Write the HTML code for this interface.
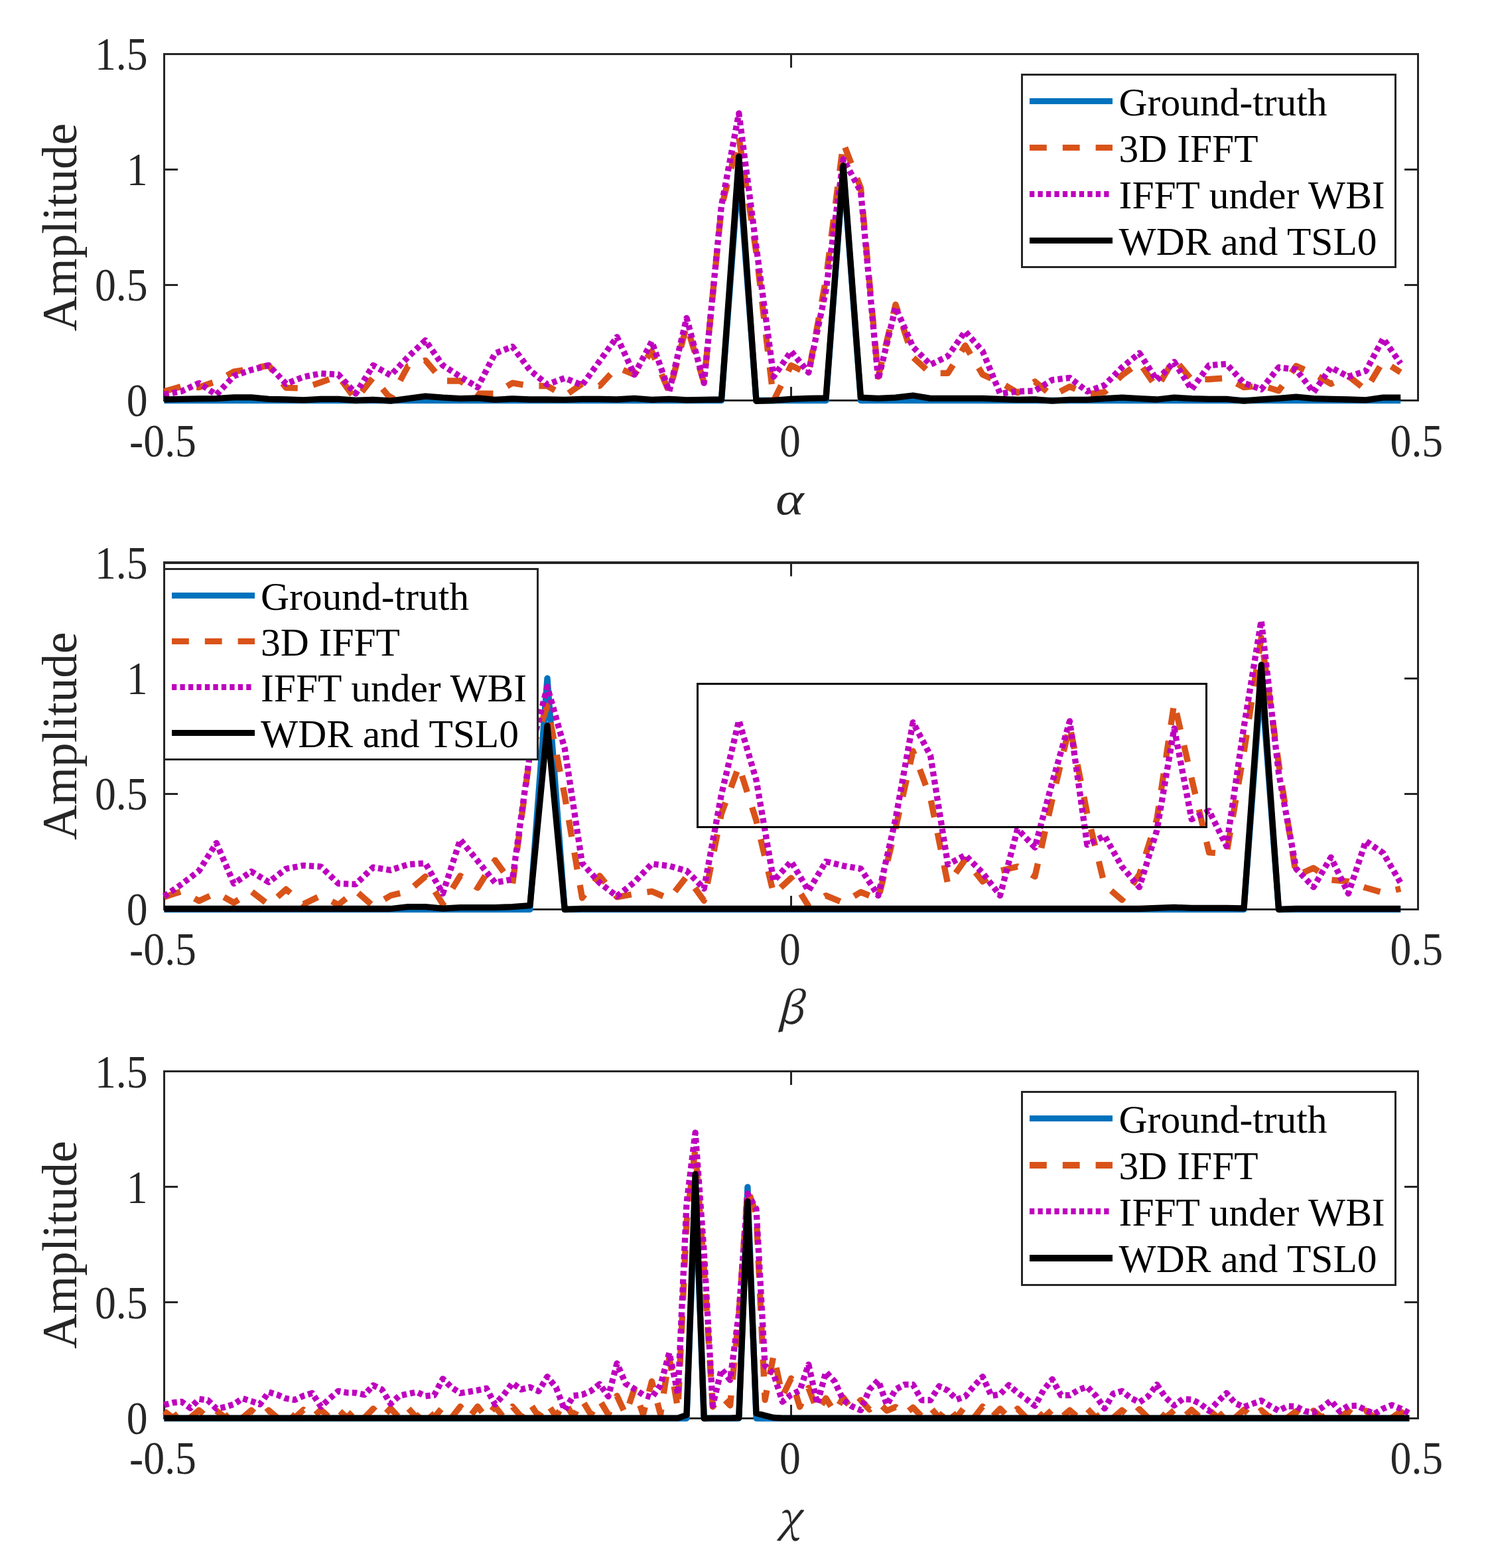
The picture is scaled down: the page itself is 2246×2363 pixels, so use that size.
<!DOCTYPE html><html><head><meta charset="utf-8"><title>Amplitude profiles</title>
<style>html,body{margin:0;padding:0;background:#fff}svg{display:block}text{font-family:"Liberation Serif","DejaVu Serif",serif}</style></head><body>
<svg width="2246" height="2363" viewBox="0 0 2246 2363">
<rect width="2246" height="2363" fill="#fff"/>
<g>
<path d="M247.5 81.5 V603.5 H2137.5 V81.5" fill="none" stroke="#262626" stroke-width="3" stroke-linecap="square"/>
<path d="M246.0 81.5 H2139.0" fill="none" stroke="#262626" stroke-width="3"/>
<text transform="translate(245.5 687.5) scale(0.955 1.035)" font-size="66.67" fill="#262626" text-anchor="middle">-0.5</text>
<path d="M1192.5 603.5 v-20.5 M1192.5 81.5 v20.5" stroke="#262626" stroke-width="3" fill="none"/>
<text transform="translate(1191.0 687.5) scale(0.955 1.035)" font-size="66.67" fill="#262626" text-anchor="middle">0</text>
<text transform="translate(2135.4 687.5) scale(0.955 1.035)" font-size="66.67" fill="#262626" text-anchor="middle">0.5</text>
<text transform="translate(222.6 627.1) scale(0.955 1.035)" font-size="66.67" fill="#262626" text-anchor="end">0</text>
<path d="M247.5 429.5 h20.5 M2137.5 429.5 h-20.5" stroke="#262626" stroke-width="3" fill="none"/>
<text transform="translate(222.6 453.1) scale(0.955 1.035)" font-size="66.67" fill="#262626" text-anchor="end">0.5</text>
<path d="M247.5 255.5 h20.5 M2137.5 255.5 h-20.5" stroke="#262626" stroke-width="3" fill="none"/>
<text transform="translate(222.6 279.1) scale(0.955 1.035)" font-size="66.67" fill="#262626" text-anchor="end">1</text>
<text transform="translate(222.6 105.1) scale(0.955 1.035)" font-size="66.67" fill="#262626" text-anchor="end">1.5</text>
<text transform="translate(115.3 342.5) rotate(-90)" font-size="73.3" fill="#262626" text-anchor="middle">Amplitude</text>
<text transform="translate(1190.5 774.5) scale(1.17 1)" font-size="69.2" fill="#262626" stroke="#262626" stroke-width="0" text-anchor="middle" font-style="italic" style="font-family:'Liberation Serif','DejaVu Serif',serif">α</text>
<polyline points="247.5,603.5 273.8,603.5 300.0,603.5 326.2,603.5 352.5,603.5 378.8,603.5 405.0,603.5 431.2,603.5 457.5,603.5 483.8,603.5 510.0,603.5 536.2,603.5 562.5,603.5 588.8,603.5 615.0,603.5 641.2,603.5 667.5,603.5 693.8,603.5 720.0,603.5 746.2,603.5 772.5,603.5 798.8,603.5 825.0,603.5 851.2,603.5 877.5,603.5 903.8,603.5 930.0,603.5 956.2,603.5 982.5,603.5 1008.8,603.5 1035.0,603.5 1061.2,603.5 1087.5,603.5 1113.8,255.5 1140.0,603.5 1166.2,603.5 1192.5,603.5 1218.8,603.5 1245.0,603.5 1271.2,255.5 1297.5,603.5 1323.8,603.5 1350.0,603.5 1376.2,603.5 1402.5,603.5 1428.8,603.5 1455.0,603.5 1481.2,603.5 1507.5,603.5 1533.8,603.5 1560.0,603.5 1586.2,603.5 1612.5,603.5 1638.8,603.5 1665.0,603.5 1691.2,603.5 1717.5,603.5 1743.8,603.5 1770.0,603.5 1796.2,603.5 1822.5,603.5 1848.8,603.5 1875.0,603.5 1901.2,603.5 1927.5,603.5 1953.8,603.5 1980.0,603.5 2006.2,603.5 2032.5,603.5 2058.8,603.5 2085.0,603.5 2111.2,603.5" fill="none" stroke="#0072BD" stroke-width="9.3" stroke-linejoin="round"/>
<polyline points="247.5,589.9 273.8,582.3 300.0,583.7 326.2,574.6 352.5,560.2 378.8,555.8 405.0,550.6 431.2,584.4 457.5,585.1 483.8,576.1 510.0,566.6 536.2,602.1 562.5,568.7 588.8,600.7 615.0,551.6 641.2,543.1 667.5,574.0 693.8,574.0 720.0,593.1 746.2,593.1 772.5,577.2 798.8,581.6 825.0,581.6 851.2,596.5 877.5,578.4 903.8,581.6 930.0,553.7 956.2,564.5 982.5,529.4 1008.8,591.0 1035.0,490.7 1061.2,576.1 1087.5,312.6 1113.8,206.8 1140.0,380.8 1166.2,603.5 1192.5,550.6 1218.8,563.5 1245.0,420.5 1271.2,215.5 1297.5,283.3 1323.8,567.7 1350.0,458.9 1376.2,538.4 1402.5,562.4 1428.8,562.4 1455.0,520.7 1481.2,564.5 1507.5,576.1 1533.8,591.7 1560.0,575.1 1586.2,596.5 1612.5,582.6 1638.8,593.8 1665.0,591.0 1691.2,565.6 1717.5,546.4 1743.8,584.7 1770.0,540.9 1796.2,572.2 1822.5,571.5 1848.8,569.7 1875.0,583.7 1901.2,580.9 1927.5,588.9 1953.8,551.6 1980.0,562.8 2006.2,578.4 2032.5,566.6 2058.8,587.8 2085.0,544.2 2111.2,561.2" fill="none" stroke="#D95319" stroke-width="9.3" stroke-linejoin="round" stroke-dasharray="25.8 24"/>
<polyline points="247.5,594.5 273.8,589.6 300.0,577.4 326.2,594.8 352.5,566.6 378.8,557.4 405.0,550.6 431.2,578.4 457.5,568.0 483.8,562.8 510.0,564.5 536.2,593.1 562.5,550.6 588.8,565.6 615.0,538.1 641.2,513.0 667.5,550.6 693.8,567.7 720.0,583.7 746.2,532.5 772.5,522.4 798.8,557.9 825.0,579.5 851.2,569.7 877.5,580.5 903.8,544.3 930.0,507.8 956.2,564.5 982.5,514.8 1008.8,589.9 1035.0,479.3 1061.2,577.2 1087.5,309.8 1113.8,170.8 1140.0,372.1 1166.2,567.7 1192.5,529.4 1218.8,561.4 1245.0,437.3 1271.2,239.8 1297.5,288.6 1323.8,572.2 1350.0,463.3 1376.2,522.8 1402.5,549.6 1428.8,536.7 1455.0,499.4 1481.2,529.4 1507.5,593.1 1533.8,589.9 1560.0,588.9 1586.2,572.5 1612.5,569.4 1638.8,589.9 1665.0,580.5 1691.2,553.7 1717.5,532.2 1743.8,572.9 1770.0,545.4 1796.2,586.8 1822.5,550.6 1848.8,548.5 1875.0,577.2 1901.2,586.8 1927.5,553.7 1953.8,556.9 1980.0,591.0 2006.2,553.7 2032.5,567.7 2058.8,559.0 2085.0,510.2 2111.2,547.8" fill="none" stroke="#BE00BE" stroke-width="9.3" stroke-linejoin="round" stroke-dasharray="7.3 5.17"/>
<polyline points="247.5,602.0 273.8,601.3 300.0,600.9 326.2,600.7 352.5,598.8 378.8,598.8 405.0,601.3 431.2,602.0 457.5,602.8 483.8,601.3 510.0,601.3 536.2,603.5 562.5,602.4 588.8,604.1 615.0,600.7 641.2,597.1 667.5,599.2 693.8,600.7 720.0,599.8 746.2,602.4 772.5,600.9 798.8,602.0 825.0,602.0 851.2,602.4 877.5,601.3 903.8,601.3 930.0,602.0 956.2,600.3 982.5,602.4 1008.8,601.3 1035.0,602.8 1061.2,602.4 1087.5,602.0 1113.8,236.0 1140.0,604.3 1166.2,603.5 1192.5,601.3 1218.8,600.3 1245.0,599.8 1271.2,249.6 1297.5,599.2 1323.8,600.3 1350.0,599.2 1376.2,596.0 1402.5,600.3 1428.8,600.3 1455.0,600.3 1481.2,600.3 1507.5,601.3 1533.8,602.4 1560.0,602.0 1586.2,604.1 1612.5,602.4 1638.8,602.4 1665.0,600.7 1691.2,599.2 1717.5,600.7 1743.8,602.0 1770.0,599.2 1796.2,600.7 1822.5,601.3 1848.8,601.3 1875.0,604.1 1901.2,602.0 1927.5,600.3 1953.8,598.1 1980.0,600.7 2006.2,601.3 2032.5,602.0 2058.8,602.8 2085.0,599.2 2111.2,599.2" fill="none" stroke="#000000" stroke-width="9.3" stroke-linejoin="round"/>
<rect x="1540.5" y="112.5" width="563" height="290" fill="#fff" stroke="#262626" stroke-width="3"/><line x1="1552" y1="152.5" x2="1677" y2="152.5" stroke="#0072BD" stroke-width="9"/><text x="1686.6" y="174.0" font-size="59.5" fill="#000">Ground-truth</text><line x1="1552" y1="222.5" x2="1677" y2="222.5" stroke="#D95319" stroke-width="9" stroke-dasharray="25.8 24"/><text x="1686.6" y="244.0" font-size="59.5" fill="#000">3D IFFT</text><line x1="1552" y1="292.5" x2="1671.5" y2="292.5" stroke="#BE00BE" stroke-width="9" stroke-dasharray="7.3 5.17"/><text x="1686.6" y="314.0" font-size="59.5" fill="#000">IFFT under WBI</text><line x1="1552" y1="362.5" x2="1677" y2="362.5" stroke="#000000" stroke-width="9"/><text x="1686.6" y="384.0" font-size="59.5" fill="#000">WDR and TSL0</text>
</g>
<g>
<path d="M247.5 848.0 V1370.5 H2137.5 V848.0" fill="none" stroke="#262626" stroke-width="3" stroke-linecap="square"/>
<path d="M246.0 848.0 H2139.0" fill="none" stroke="#262626" stroke-width="4"/>
<text transform="translate(245.5 1453.7) scale(0.955 1.035)" font-size="66.67" fill="#262626" text-anchor="middle">-0.5</text>
<path d="M1192.5 1370.5 v-20.5 M1192.5 848.0 v20.5" stroke="#262626" stroke-width="3" fill="none"/>
<text transform="translate(1191.0 1453.7) scale(0.955 1.035)" font-size="66.67" fill="#262626" text-anchor="middle">0</text>
<text transform="translate(2135.4 1453.7) scale(0.955 1.035)" font-size="66.67" fill="#262626" text-anchor="middle">0.5</text>
<text transform="translate(222.6 1394.1) scale(0.955 1.035)" font-size="66.67" fill="#262626" text-anchor="end">0</text>
<path d="M247.5 1196.5 h20.5 M2137.5 1196.5 h-20.5" stroke="#262626" stroke-width="3" fill="none"/>
<text transform="translate(222.6 1220.1) scale(0.955 1.035)" font-size="66.67" fill="#262626" text-anchor="end">0.5</text>
<path d="M247.5 1022.5 h20.5 M2137.5 1022.5 h-20.5" stroke="#262626" stroke-width="3" fill="none"/>
<text transform="translate(222.6 1046.1) scale(0.955 1.035)" font-size="66.67" fill="#262626" text-anchor="end">1</text>
<text transform="translate(222.6 872.1) scale(0.955 1.035)" font-size="66.67" fill="#262626" text-anchor="end">1.5</text>
<text transform="translate(115.3 1109.2) rotate(-90)" font-size="73.3" fill="#262626" text-anchor="middle">Amplitude</text>
<text transform="translate(1190.2 1541.8) scale(1.0 1)" font-size="65" fill="#262626" stroke="#262626" stroke-width="0.4" text-anchor="middle" font-style="italic" style="font-family:'Noto Serif CJK SC','DejaVu Serif',serif">β</text>
<polyline points="247.5,1370.5 273.8,1370.5 300.0,1370.5 326.2,1370.5 352.5,1370.5 378.8,1370.5 405.0,1370.5 431.2,1370.5 457.5,1370.5 483.8,1370.5 510.0,1370.5 536.2,1370.5 562.5,1370.5 588.8,1370.5 615.0,1370.5 641.2,1370.5 667.5,1370.5 693.8,1370.5 720.0,1370.5 746.2,1370.5 772.5,1370.5 798.8,1370.5 825.0,1022.2 851.2,1370.5 877.5,1370.5 903.8,1370.5 930.0,1370.5 956.2,1370.5 982.5,1370.5 1008.8,1370.5 1035.0,1370.5 1061.2,1370.5 1087.5,1370.5 1113.8,1370.5 1140.0,1370.5 1166.2,1370.5 1192.5,1370.5 1218.8,1370.5 1245.0,1370.5 1271.2,1370.5 1297.5,1370.5 1323.8,1370.5 1350.0,1370.5 1376.2,1370.5 1402.5,1370.5 1428.8,1370.5 1455.0,1370.5 1481.2,1370.5 1507.5,1370.5 1533.8,1370.5 1560.0,1370.5 1586.2,1370.5 1612.5,1370.5 1638.8,1370.5 1665.0,1370.5 1691.2,1370.5 1717.5,1370.5 1743.8,1370.5 1770.0,1370.5 1796.2,1370.5 1822.5,1370.5 1848.8,1370.5 1875.0,1370.5 1901.2,1022.2 1927.5,1370.5 1953.8,1370.5 1980.0,1370.5 2006.2,1370.5 2032.5,1370.5 2058.8,1370.5 2085.0,1370.5 2111.2,1370.5" fill="none" stroke="#0072BD" stroke-width="9.3" stroke-linejoin="round"/>
<polyline points="247.5,1351.8 273.8,1343.3 300.0,1357.8 326.2,1345.4 352.5,1360.4 378.8,1343.3 405.0,1363.5 431.2,1340.2 457.5,1362.5 483.8,1349.6 510.0,1363.5 536.2,1342.3 562.5,1365.6 588.8,1349.6 615.0,1343.3 641.2,1320.9 667.5,1362.5 693.8,1319.8 720.0,1337.9 746.2,1296.3 772.5,1332.5 798.8,1138.5 825.0,1064.0 851.2,1199.2 877.5,1353.1 903.8,1319.8 930.0,1351.8 956.2,1347.2 982.5,1343.3 1008.8,1354.5 1035.0,1320.9 1061.2,1357.3 1087.5,1225.9 1113.8,1154.5 1140.0,1236.5 1166.2,1347.5 1192.5,1323.1 1218.8,1365.6 1245.0,1349.6 1271.2,1360.4 1297.5,1344.4 1323.8,1355.0 1350.0,1248.2 1376.2,1131.9 1402.5,1202.4 1428.8,1332.5 1455.0,1295.3 1481.2,1328.4 1507.5,1312.3 1533.8,1305.9 1560.0,1320.9 1586.2,1204.7 1612.5,1093.6 1638.8,1225.9 1665.0,1333.6 1691.2,1356.2 1717.5,1317.7 1743.8,1234.7 1770.0,1059.1 1796.2,1173.3 1822.5,1284.6 1848.8,1286.9 1875.0,1134.1 1901.2,961.2 1927.5,1151.0 1953.8,1319.8 1980.0,1308.1 2006.2,1325.9 2032.5,1328.4 2058.8,1337.9 2085.0,1345.4 2111.2,1339.2" fill="none" stroke="#D95319" stroke-width="9.3" stroke-linejoin="round" stroke-dasharray="25.8 24"/>
<polyline points="247.5,1350.7 273.8,1332.5 300.0,1312.3 326.2,1270.5 352.5,1331.5 378.8,1313.4 405.0,1329.4 431.2,1309.2 457.5,1304.3 483.8,1306.1 510.0,1331.5 536.2,1332.5 562.5,1307.1 588.8,1311.3 615.0,1302.7 641.2,1301.0 667.5,1346.5 693.8,1265.3 720.0,1297.3 746.2,1330.1 772.5,1325.2 798.8,1136.4 825.0,1035.1 851.2,1127.7 877.5,1300.8 903.8,1330.4 930.0,1350.7 956.2,1329.4 982.5,1301.9 1008.8,1305.0 1035.0,1312.3 1061.2,1339.2 1087.5,1197.0 1113.8,1085.9 1140.0,1175.8 1166.2,1327.3 1192.5,1298.4 1218.8,1342.3 1245.0,1298.4 1271.2,1304.8 1297.5,1309.2 1323.8,1349.6 1350.0,1234.0 1376.2,1088.7 1402.5,1138.5 1428.8,1302.7 1455.0,1288.8 1481.2,1315.5 1507.5,1349.6 1533.8,1249.3 1560.0,1277.1 1586.2,1178.9 1612.5,1086.8 1638.8,1273.0 1665.0,1259.7 1691.2,1306.1 1717.5,1336.9 1743.8,1251.5 1770.0,1097.8 1796.2,1234.7 1822.5,1221.8 1848.8,1275.1 1875.0,1095.7 1901.2,935.4 1927.5,1165.0 1953.8,1309.2 1980.0,1336.9 2006.2,1292.1 2032.5,1346.5 2058.8,1267.5 2085.0,1285.6 2111.2,1330.4" fill="none" stroke="#BE00BE" stroke-width="9.3" stroke-linejoin="round" stroke-dasharray="7.3 5.17"/>
<polyline points="247.5,1369.5 273.8,1369.5 300.0,1369.5 326.2,1369.5 352.5,1369.5 378.8,1369.5 405.0,1369.5 431.2,1369.5 457.5,1369.5 483.8,1369.5 510.0,1369.5 536.2,1369.5 562.5,1369.5 588.8,1369.5 615.0,1366.7 641.2,1366.7 667.5,1369.1 693.8,1367.7 720.0,1367.7 746.2,1367.7 772.5,1366.7 798.8,1364.6 825.0,1093.6 851.2,1370.5 877.5,1369.5 903.8,1369.5 930.0,1369.5 956.2,1369.5 982.5,1369.5 1008.8,1369.5 1035.0,1369.5 1061.2,1369.5 1087.5,1369.5 1113.8,1369.5 1140.0,1369.5 1166.2,1369.5 1192.5,1369.5 1218.8,1369.5 1245.0,1369.5 1271.2,1369.5 1297.5,1369.5 1323.8,1369.5 1350.0,1369.5 1376.2,1369.5 1402.5,1369.5 1428.8,1369.5 1455.0,1369.5 1481.2,1369.5 1507.5,1369.5 1533.8,1369.5 1560.0,1369.5 1586.2,1369.5 1612.5,1369.5 1638.8,1369.5 1665.0,1369.5 1691.2,1369.5 1717.5,1369.5 1743.8,1368.4 1770.0,1367.4 1796.2,1368.4 1822.5,1368.4 1848.8,1368.4 1875.0,1368.8 1901.2,1002.0 1927.5,1370.5 1953.8,1369.5 1980.0,1369.5 2006.2,1369.5 2032.5,1369.5 2058.8,1369.5 2085.0,1369.5 2111.2,1369.5" fill="none" stroke="#000000" stroke-width="9.3" stroke-linejoin="round"/>
<rect x="1051.5" y="1030.5" width="767" height="216" fill="none" stroke="#000" stroke-width="3"/>
<rect x="247.5" y="857.5" width="563" height="287" fill="#fff" stroke="#262626" stroke-width="3"/><line x1="259" y1="897.5" x2="384" y2="897.5" stroke="#0072BD" stroke-width="9"/><text x="393" y="919.0" font-size="59.5" fill="#000">Ground-truth</text><line x1="259" y1="966.5" x2="384" y2="966.5" stroke="#D95319" stroke-width="9" stroke-dasharray="25.8 24"/><text x="393" y="988.0" font-size="59.5" fill="#000">3D IFFT</text><line x1="259" y1="1035.5" x2="378.5" y2="1035.5" stroke="#BE00BE" stroke-width="9" stroke-dasharray="7.3 5.17"/><text x="393" y="1057.0" font-size="59.5" fill="#000">IFFT under WBI</text><line x1="259" y1="1104.5" x2="384" y2="1104.5" stroke="#000000" stroke-width="9"/><text x="393" y="1126.0" font-size="59.5" fill="#000">WDR and TSL0</text>
</g>
<g>
<path d="M247.5 1614.5 V2137.5 H2137.5 V1614.5" fill="none" stroke="#262626" stroke-width="3" stroke-linecap="square"/>
<path d="M246.0 1614.5 H2139.0" fill="none" stroke="#262626" stroke-width="3"/>
<text transform="translate(245.5 2220.8) scale(0.955 1.035)" font-size="66.67" fill="#262626" text-anchor="middle">-0.5</text>
<path d="M1192.5 2137.5 v-20.5 M1192.5 1614.5 v20.5" stroke="#262626" stroke-width="3" fill="none"/>
<text transform="translate(1191.0 2220.8) scale(0.955 1.035)" font-size="66.67" fill="#262626" text-anchor="middle">0</text>
<text transform="translate(2135.4 2220.8) scale(0.955 1.035)" font-size="66.67" fill="#262626" text-anchor="middle">0.5</text>
<text transform="translate(222.6 2161.1) scale(0.955 1.035)" font-size="66.67" fill="#262626" text-anchor="end">0</text>
<path d="M247.5 1962.5 h20.5 M2137.5 1962.5 h-20.5" stroke="#262626" stroke-width="3" fill="none"/>
<text transform="translate(222.6 1987.1) scale(0.955 1.035)" font-size="66.67" fill="#262626" text-anchor="end">0.5</text>
<path d="M247.5 1788.5 h20.5 M2137.5 1788.5 h-20.5" stroke="#262626" stroke-width="3" fill="none"/>
<text transform="translate(222.6 1813.1) scale(0.955 1.035)" font-size="66.67" fill="#262626" text-anchor="end">1</text>
<text transform="translate(222.6 1639.1) scale(0.955 1.035)" font-size="66.67" fill="#262626" text-anchor="end">1.5</text>
<text transform="translate(115.3 1876.0) rotate(-90)" font-size="73.3" fill="#262626" text-anchor="middle">Amplitude</text>
<text transform="translate(1189 2309.2) scale(1.0 1)" font-size="63.5" fill="#262626" stroke="#262626" stroke-width="0.4" text-anchor="middle" font-style="italic" style="font-family:'Noto Serif CJK SC','DejaVu Serif',serif">χ</text>
<polyline points="247.5,2137.5 260.6,2137.5 273.8,2137.5 286.9,2137.5 300.0,2137.5 313.1,2137.5 326.2,2137.5 339.4,2137.5 352.5,2137.5 365.6,2137.5 378.8,2137.5 391.9,2137.5 405.0,2137.5 418.1,2137.5 431.2,2137.5 444.4,2137.5 457.5,2137.5 470.6,2137.5 483.8,2137.5 496.9,2137.5 510.0,2137.5 523.1,2137.5 536.2,2137.5 549.4,2137.5 562.5,2137.5 575.6,2137.5 588.8,2137.5 601.9,2137.5 615.0,2137.5 628.1,2137.5 641.2,2137.5 654.4,2137.5 667.5,2137.5 680.6,2137.5 693.8,2137.5 706.9,2137.5 720.0,2137.5 733.1,2137.5 746.2,2137.5 759.4,2137.5 772.5,2137.5 785.6,2137.5 798.8,2137.5 811.9,2137.5 825.0,2137.5 838.1,2137.5 851.2,2137.5 864.4,2137.5 877.5,2137.5 890.6,2137.5 903.8,2137.5 916.9,2137.5 930.0,2137.5 943.1,2137.5 956.2,2137.5 969.4,2137.5 982.5,2137.5 995.6,2137.5 1008.8,2137.5 1021.9,2137.5 1035.0,2137.5 1048.1,1788.8 1061.2,2137.5 1074.4,2137.5 1087.5,2137.5 1100.6,2137.5 1113.8,2137.5 1126.9,1788.8 1140.0,2137.5 1153.1,2137.5 1166.2,2137.5 1179.4,2137.5 1192.5,2137.5 1205.6,2137.5 1218.8,2137.5 1231.9,2137.5 1245.0,2137.5 1258.1,2137.5 1271.2,2137.5 1284.4,2137.5 1297.5,2137.5 1310.6,2137.5 1323.8,2137.5 1336.9,2137.5 1350.0,2137.5 1363.1,2137.5 1376.2,2137.5 1389.4,2137.5 1402.5,2137.5 1415.6,2137.5 1428.8,2137.5 1441.9,2137.5 1455.0,2137.5 1468.1,2137.5 1481.2,2137.5 1494.4,2137.5 1507.5,2137.5 1520.6,2137.5 1533.8,2137.5 1546.9,2137.5 1560.0,2137.5 1573.1,2137.5 1586.2,2137.5 1599.4,2137.5 1612.5,2137.5 1625.6,2137.5 1638.8,2137.5 1651.9,2137.5 1665.0,2137.5 1678.1,2137.5 1691.2,2137.5 1704.4,2137.5 1717.5,2137.5 1730.6,2137.5 1743.8,2137.5 1756.9,2137.5 1770.0,2137.5 1783.1,2137.5 1796.2,2137.5 1809.4,2137.5 1822.5,2137.5 1835.6,2137.5 1848.8,2137.5 1861.9,2137.5 1875.0,2137.5 1888.1,2137.5 1901.2,2137.5 1914.4,2137.5 1927.5,2137.5 1940.6,2137.5 1953.8,2137.5 1966.9,2137.5 1980.0,2137.5 1993.1,2137.5 2006.2,2137.5 2019.4,2137.5 2032.5,2137.5 2045.6,2137.5 2058.8,2137.5 2071.9,2137.5 2085.0,2137.5 2098.1,2137.5 2111.2,2137.5 2124.4,2137.5" fill="none" stroke="#0072BD" stroke-width="9.3" stroke-linejoin="round"/>
<polyline points="247.5,2126.8 260.6,2136.5 273.8,2126.3 286.9,2136.5 300.0,2125.3 313.1,2136.5 326.2,2126.0 339.4,2136.5 352.5,2125.3 365.6,2136.5 378.8,2125.3 391.9,2136.5 405.0,2125.3 418.1,2136.5 431.2,2124.6 444.4,2136.5 457.5,2124.6 470.6,2136.5 483.8,2124.6 496.9,2136.5 510.0,2124.6 523.1,2136.5 536.2,2122.9 549.4,2136.5 562.5,2122.9 575.6,2136.5 588.8,2122.5 601.9,2136.5 615.0,2121.8 628.1,2136.5 641.2,2121.1 654.4,2136.5 667.5,2120.4 680.6,2136.5 693.8,2119.7 706.9,2136.5 720.0,2119.7 733.1,2136.5 746.2,2119.7 759.4,2136.5 772.5,2119.7 785.6,2134.7 798.8,2114.8 811.9,2134.7 825.0,2115.2 838.1,2134.7 851.2,2113.1 864.4,2134.7 877.5,2110.0 890.6,2131.6 903.8,2110.0 916.9,2131.6 930.0,2103.5 943.1,2131.6 956.2,2093.2 969.4,2131.6 982.5,2081.7 995.6,2131.6 1008.8,2045.5 1021.9,2123.6 1035.0,1841.1 1048.1,1731.3 1061.2,1910.9 1074.4,2120.1 1087.5,2104.4 1100.6,2118.0 1113.8,1980.6 1126.9,1791.6 1140.0,1830.7 1153.1,2109.6 1166.2,2042.0 1179.4,2104.4 1192.5,2077.2 1205.6,2120.1 1218.8,2091.5 1231.9,2126.0 1245.0,2107.2 1258.1,2128.4 1271.2,2106.1 1284.4,2124.3 1297.5,2110.0 1310.6,2124.3 1323.8,2113.1 1336.9,2126.0 1350.0,2120.4 1363.1,2131.6 1376.2,2121.1 1389.4,2134.7 1402.5,2121.1 1415.6,2136.5 1428.8,2119.7 1441.9,2136.5 1455.0,2119.0 1468.1,2136.5 1481.2,2119.7 1494.4,2136.5 1507.5,2122.9 1520.6,2136.5 1533.8,2122.9 1546.9,2136.5 1560.0,2122.9 1573.1,2136.5 1586.2,2124.6 1599.4,2136.5 1612.5,2125.3 1625.6,2136.5 1638.8,2122.9 1651.9,2136.5 1665.0,2126.0 1678.1,2136.5 1691.2,2125.3 1704.4,2136.5 1717.5,2123.6 1730.6,2136.5 1743.8,2124.6 1756.9,2136.5 1770.0,2125.3 1783.1,2136.5 1796.2,2124.6 1809.4,2136.5 1822.5,2124.6 1835.6,2136.5 1848.8,2124.6 1861.9,2136.5 1875.0,2124.6 1888.1,2136.5 1901.2,2125.3 1914.4,2136.5 1927.5,2126.7 1940.6,2136.5 1953.8,2126.7 1966.9,2136.5 1980.0,2126.0 1993.1,2136.5 2006.2,2126.0 2019.4,2136.5 2032.5,2126.7 2045.6,2136.5 2058.8,2126.0 2071.9,2136.5 2085.0,2127.4 2098.1,2136.5 2111.2,2127.4 2124.4,2136.5" fill="none" stroke="#D95319" stroke-width="9.3" stroke-linejoin="round" stroke-dasharray="25.8 24"/>
<polyline points="247.5,2117.3 260.6,2113.9 273.8,2112.4 286.9,2121.9 300.0,2108.3 313.1,2110.0 326.2,2122.9 339.4,2120.4 352.5,2116.3 365.6,2107.5 378.8,2111.5 391.9,2116.3 405.0,2097.9 418.1,2101.9 431.2,2107.5 444.4,2109.6 457.5,2103.5 470.6,2099.5 483.8,2119.9 496.9,2107.5 510.0,2096.4 523.1,2098.8 536.2,2099.1 549.4,2101.9 562.5,2087.8 575.6,2093.9 588.8,2115.5 601.9,2103.5 615.0,2100.6 628.1,2097.9 641.2,2103.9 654.4,2102.7 667.5,2077.9 680.6,2090.8 693.8,2099.5 706.9,2097.4 720.0,2095.1 733.1,2092.3 746.2,2116.3 759.4,2101.9 772.5,2084.3 785.6,2093.9 798.8,2090.4 811.9,2096.4 825.0,2074.7 838.1,2090.8 851.2,2125.1 864.4,2103.5 877.5,2101.9 890.6,2096.4 903.8,2085.9 916.9,2104.4 930.0,2054.7 943.1,2085.2 956.2,2093.1 969.4,2101.9 982.5,2105.9 995.6,2087.6 1008.8,2038.8 1021.9,2100.9 1035.0,1813.2 1048.1,1707.0 1061.2,1886.5 1074.4,2118.0 1087.5,2063.6 1100.6,2079.6 1113.8,1978.9 1126.9,1798.9 1140.0,1822.0 1153.1,2058.0 1166.2,2070.7 1179.4,2112.3 1192.5,2101.9 1205.6,2095.5 1218.8,2056.3 1231.9,2115.5 1245.0,2067.5 1258.1,2081.9 1271.2,2110.0 1284.4,2119.5 1297.5,2125.1 1310.6,2093.9 1323.8,2080.3 1336.9,2117.1 1350.0,2093.9 1363.1,2086.7 1376.2,2086.7 1389.4,2110.0 1402.5,2110.0 1415.6,2089.1 1428.8,2095.7 1441.9,2109.1 1455.0,2104.4 1468.1,2089.1 1481.2,2074.7 1494.4,2103.5 1507.5,2101.2 1520.6,2087.5 1533.8,2098.8 1546.9,2108.3 1560.0,2118.7 1573.1,2094.7 1586.2,2078.7 1599.4,2102.7 1612.5,2102.7 1625.6,2094.7 1638.8,2089.9 1651.9,2103.5 1665.0,2122.7 1678.1,2100.3 1691.2,2096.4 1704.4,2106.8 1717.5,2113.4 1730.6,2104.4 1743.8,2086.7 1756.9,2105.9 1770.0,2118.0 1783.1,2108.3 1796.2,2109.1 1809.4,2115.5 1822.5,2126.2 1835.6,2112.4 1848.8,2099.5 1861.9,2114.7 1875.0,2120.3 1888.1,2115.5 1901.2,2110.7 1914.4,2118.7 1927.5,2126.0 1940.6,2119.2 1953.8,2119.5 1966.9,2126.7 1980.0,2128.8 1993.1,2121.1 2006.2,2110.7 2019.4,2126.7 2032.5,2118.7 2045.6,2118.4 2058.8,2125.1 2071.9,2130.7 2085.0,2122.7 2098.1,2117.5 2111.2,2122.7 2124.4,2129.9" fill="none" stroke="#BE00BE" stroke-width="9.3" stroke-linejoin="round" stroke-dasharray="7.3 5.17"/>
<polyline points="247.5,2137.2 260.6,2137.2 273.8,2137.2 286.9,2137.2 300.0,2137.2 313.1,2137.2 326.2,2137.2 339.4,2137.2 352.5,2137.2 365.6,2137.2 378.8,2137.2 391.9,2137.2 405.0,2137.2 418.1,2137.2 431.2,2137.2 444.4,2137.2 457.5,2137.2 470.6,2137.2 483.8,2137.2 496.9,2137.2 510.0,2137.2 523.1,2137.2 536.2,2137.2 549.4,2137.2 562.5,2137.2 575.6,2137.2 588.8,2137.2 601.9,2137.2 615.0,2137.2 628.1,2137.2 641.2,2137.2 654.4,2137.2 667.5,2137.2 680.6,2137.2 693.8,2137.2 706.9,2137.2 720.0,2137.2 733.1,2137.2 746.2,2137.2 759.4,2137.2 772.5,2137.2 785.6,2137.2 798.8,2137.2 811.9,2137.2 825.0,2137.2 838.1,2137.2 851.2,2137.2 864.4,2137.2 877.5,2137.2 890.6,2137.2 903.8,2137.2 916.9,2137.2 930.0,2137.2 943.1,2137.2 956.2,2137.2 969.4,2137.2 982.5,2137.2 995.6,2137.2 1008.8,2137.2 1021.9,2137.2 1035.0,2132.4 1048.1,1769.3 1061.2,2137.5 1074.4,2137.2 1087.5,2137.2 1100.6,2137.2 1113.8,2136.5 1126.9,1810.6 1140.0,2129.8 1153.1,2133.3 1166.2,2136.5 1179.4,2137.2 1192.5,2137.2 1205.6,2137.2 1218.8,2137.2 1231.9,2137.2 1245.0,2137.2 1258.1,2137.2 1271.2,2137.2 1284.4,2137.2 1297.5,2137.2 1310.6,2137.2 1323.8,2137.2 1336.9,2137.2 1350.0,2137.2 1363.1,2137.2 1376.2,2137.2 1389.4,2137.2 1402.5,2137.2 1415.6,2137.2 1428.8,2137.2 1441.9,2137.2 1455.0,2137.2 1468.1,2137.2 1481.2,2137.2 1494.4,2137.2 1507.5,2137.2 1520.6,2137.2 1533.8,2137.2 1546.9,2137.2 1560.0,2137.2 1573.1,2137.2 1586.2,2137.2 1599.4,2137.2 1612.5,2137.2 1625.6,2137.2 1638.8,2137.2 1651.9,2137.2 1665.0,2137.2 1678.1,2137.2 1691.2,2137.2 1704.4,2137.2 1717.5,2137.2 1730.6,2137.2 1743.8,2137.2 1756.9,2137.2 1770.0,2137.2 1783.1,2137.2 1796.2,2137.2 1809.4,2137.2 1822.5,2137.2 1835.6,2137.2 1848.8,2137.2 1861.9,2137.2 1875.0,2137.2 1888.1,2137.2 1901.2,2137.2 1914.4,2137.2 1927.5,2137.2 1940.6,2137.2 1953.8,2137.2 1966.9,2137.2 1980.0,2137.2 1993.1,2137.2 2006.2,2137.2 2019.4,2137.2 2032.5,2137.2 2045.6,2137.2 2058.8,2137.2 2071.9,2137.2 2085.0,2137.2 2098.1,2137.2 2111.2,2137.2 2124.4,2137.2" fill="none" stroke="#000000" stroke-width="9.3" stroke-linejoin="round"/>
<rect x="1540.5" y="1645.5" width="563" height="291" fill="#fff" stroke="#262626" stroke-width="3"/><line x1="1552" y1="1685.5" x2="1677" y2="1685.5" stroke="#0072BD" stroke-width="9"/><text x="1686.6" y="1707.0" font-size="59.5" fill="#000">Ground-truth</text><line x1="1552" y1="1756" x2="1677" y2="1756" stroke="#D95319" stroke-width="10" stroke-dasharray="25.8 24"/><text x="1686.6" y="1777.0" font-size="59.5" fill="#000">3D IFFT</text><line x1="1552" y1="1825.5" x2="1671.5" y2="1825.5" stroke="#BE00BE" stroke-width="9" stroke-dasharray="7.3 5.17"/><text x="1686.6" y="1847.0" font-size="59.5" fill="#000">IFFT under WBI</text><line x1="1552" y1="1896" x2="1677" y2="1896" stroke="#000000" stroke-width="10"/><text x="1686.6" y="1917.0" font-size="59.5" fill="#000">WDR and TSL0</text>
</g>
</svg></body></html>
